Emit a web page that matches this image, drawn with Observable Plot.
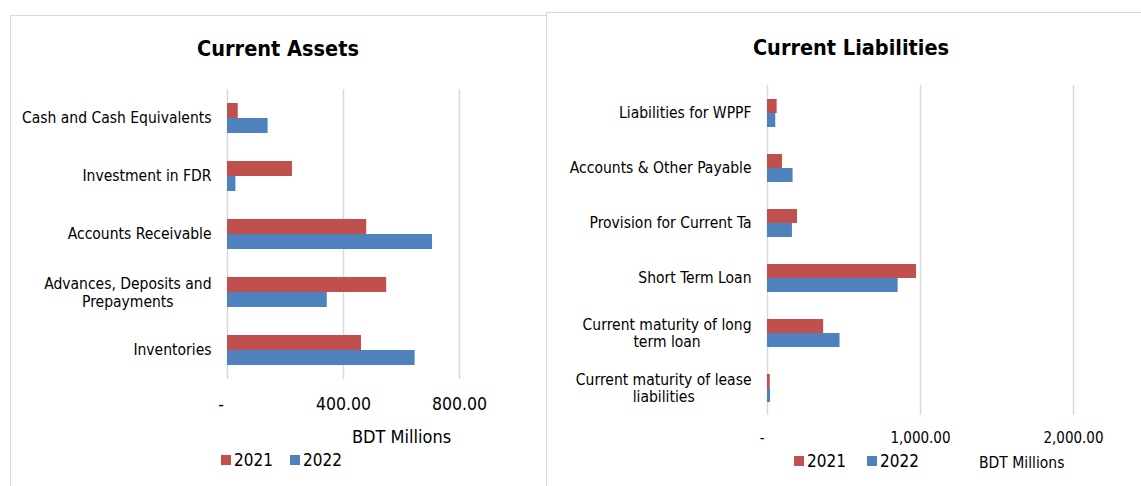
<!DOCTYPE html>
<html>
<head>
<meta charset="utf-8">
<script src="https://cdn.jsdelivr.net/npm/d3@7"></script>
<script src="https://cdn.jsdelivr.net/npm/@observablehq/plot@0.6"></script>
<style>
  html, body { margin: 0; padding: 0; background: #fff; }
  #wrap { position: relative; width: 1141px; height: 486px; overflow: hidden;
          font-family: "DejaVu Sans Condensed", "DejaVu Sans", sans-serif; color: #000; }
  .panel { position: absolute; border: 1.5px solid #d9d9d9; background: #fff; box-sizing: border-box; }
  .title { position: absolute; font-weight: bold; white-space: nowrap; transform: translate(-50%, -50%); }
  .abs { position: absolute; white-space: nowrap; }
  .sw { position: absolute; width: 10px; height: 10px; }
  .plotbox { position: absolute; top: 0; }
  .plotbox svg { max-width: none; overflow: visible; }
</style>
</head>
<body>
<div id="wrap">
  <div class="panel" style="left:10px; top:15px; width:537px; height:500px;"></div>
  <div class="panel" style="left:546px; top:12px; width:620px; height:500px;"></div>

  <div class="title" style="left:278px; top:48px; font-size:21.5px;">Current Assets</div>
  <div class="title" style="left:851px; top:47px; font-size:21.5px;">Current Liabilities</div>

  <div id="leftPlot" class="plotbox" style="left:0px;"></div>
  <div id="rightPlot" class="plotbox" style="left:546px;"></div>

  <div class="abs" style="left:352px; top:425px; font-size:18px; line-height:24px;">BDT Millions</div>
  <div class="abs" style="left:979px; top:453px; font-size:15.5px; line-height:20px;">BDT Millions</div>

  <div id="legendLeft"></div>
  <div id="legendRight"></div>
</div>
<script>
// ---------- data ----------
const years = ["2021", "2022"];
const seriesColors = ["#C0504D", "#4F81BD"];

const assetCategories = [
  "Cash and Cash Equivalents",
  "Investment in FDR",
  "Accounts Receivable",
  "Advances, Deposits and Prepayments",
  "Inventories"
];
const assetLabels = [
  "Cash and Cash Equivalents",
  "Investment in FDR",
  "Accounts Receivable",
  "Advances, Deposits and\nPrepayments",
  "Inventories"
];
const assets2021 = [37, 224, 480, 549, 462];
const assets2022 = [140, 29, 707, 344, 647];
const assetTicks = [0, 400, 800];

const liabilityCategories = [
  "Liabilities for WPPF",
  "Accounts & Other Payable",
  "Provision for Current Ta",
  "Short Term Loan",
  "Current maturity of long term loan",
  "Current maturity of lease liabilities"
];
const liabilityLabels = [
  "Liabilities for WPPF",
  "Accounts & Other Payable",
  "Provision for Current Ta",
  "Short Term Loan",
  "Current maturity of long\nterm loan",
  "Current maturity of lease\nliabilities"
];
const liabilities2021 = [63, 98, 196, 974, 367, 18];
const liabilities2022 = [54, 167, 163, 854, 474, 20];
const liabilityTicks = [0, 1000, 2000];

// ---------- helpers ----------
const FONT = '"DejaVu Sans Condensed", "DejaVu Sans", sans-serif';
const ctx = document.createElement("canvas").getContext("2d");
function textWidth(s, size) {
  ctx.font = `${size}px "DejaVu Sans Condensed"`;
  return ctx.measureText(s).width;
}
const fmt = d3.format(",.2f");

function labelMarks(cats, labels, size, gap) {
  const marks = [];
  const single = cats.filter((c, i) => !labels[i].includes("\n"));
  marks.push(Plot.text(single, {
    fy: d => d, text: d => labels[cats.indexOf(d)],
    frameAnchor: "left", textAnchor: "end", dx: -gap, fontSize: size, fill: "#000"
  }));
  cats.forEach((c, i) => {
    if (labels[i].includes("\n")) {
      const w = textWidth(labels[i].split("\n")[0], size);
      marks.push(Plot.text([c], {
        fy: d => d, text: () => labels[i],
        frameAnchor: "left", textAnchor: "middle", dx: -gap - w / 2,
        fontSize: size, lineHeight: 1.12, fill: "#000"
      }));
    }
  });
  return marks;
}

function makeChart(o) {
  const rows = [];
  o.cats.forEach((c, i) => {
    rows.push({cat: c, year: years[0], value: o.v21[i]});
    rows.push({cat: c, year: years[1], value: o.v22[i]});
  });
  return Plot.plot({
    width: o.width, height: o.height,
    marginLeft: o.ml, marginRight: o.mr, marginTop: o.mt, marginBottom: o.mb,
    style: {fontFamily: FONT, background: "transparent", color: "#000", overflow: "visible"},
    x: {domain: [0, o.ticks[o.ticks.length - 1]], axis: null},
    y: {domain: years, paddingInner: 0, paddingOuter: 0.923, axis: null},
    fy: {domain: o.cats, padding: 0, axis: null},
    color: {domain: years, range: seriesColors},
    marks: [
      Plot.ruleX(o.ticks, {stroke: "#d9d9d9", strokeWidth: 1.5}),
      Plot.barX(rows, {fy: "cat", y: "year", x: "value", fill: "year"}),
      Plot.axisX({ticks: o.ticks.filter(t => t !== 0), tickSize: 0, tickPadding: o.tickPad,
                  tickFormat: fmt, fontSize: o.tickFont, label: null, fill: "#000"}),
      Plot.axisX({ticks: [0], tickSize: 0, tickPadding: o.tickPad, tickFormat: () => "-",
                  fontSize: o.tickFont, dx: o.zeroDx, label: null, fill: "#000"}),
      ...labelMarks(o.cats, o.labels, o.labelFont, 16)
    ]
  });
}

document.getElementById("leftPlot").append(makeChart({
  cats: assetCategories, labels: assetLabels, v21: assets2021, v22: assets2022, ticks: assetTicks,
  width: 546, height: 430, ml: 227, mr: 87, mt: 87, mb: 48.3,
  tickFont: 17.5, tickPad: 18.3, zeroDx: -6.3, labelFont: 15.5
}));
document.getElementById("rightPlot").append(makeChart({
  cats: liabilityCategories, labels: liabilityLabels, v21: liabilities2021, v22: liabilities2022, ticks: liabilityTicks,
  width: 595, height: 455, ml: 221, mr: 68, mt: 85, mb: 40,
  tickFont: 15, tickPad: 16.5, zeroDx: -5.3, labelFont: 15.5
}));

// ---------- legends ----------
function legend(el, items) {
  const root = document.getElementById(el);
  items.forEach(it => {
    const sw = document.createElement("div");
    sw.className = "sw";
    sw.style.left = it.sx + "px"; sw.style.top = it.sy + "px"; sw.style.background = it.color;
    root.append(sw);
    const t = document.createElement("div");
    t.className = "abs";
    t.style.left = it.tx + "px"; t.style.top = (it.sy + 5 - 11) + "px";
    t.style.fontSize = it.size + "px"; t.style.lineHeight = "22px";
    t.textContent = it.label;
    root.append(t);
  });
}
legend("legendLeft", [
  {label: years[0], color: seriesColors[0], sx: 221, sy: 455, tx: 234, size: 17},
  {label: years[1], color: seriesColors[1], sx: 290, sy: 455, tx: 303, size: 17}
]);
legend("legendRight", [
  {label: years[0], color: seriesColors[0], sx: 793.5, sy: 456, tx: 807, size: 17},
  {label: years[1], color: seriesColors[1], sx: 866.5, sy: 456, tx: 880, size: 17}
]);
</script>
</body>
</html>
